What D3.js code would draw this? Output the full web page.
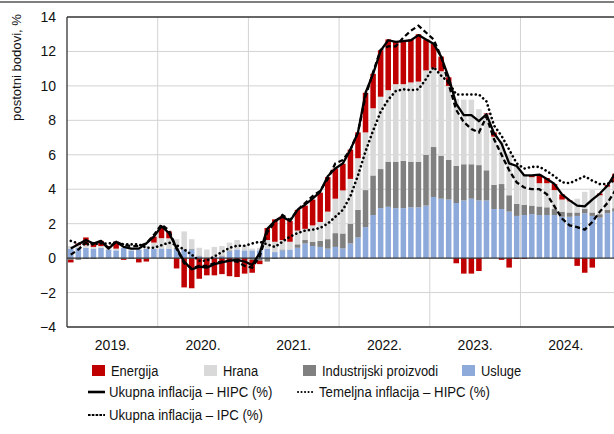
<!DOCTYPE html>
<html>
<head>
<meta charset="utf-8">
<script src="https://cdn.jsdelivr.net/npm/d3@7"></script>
<style>
body{margin:0;background:#fff;}
svg{font-family:"Liberation Sans",Arial,sans-serif;}
.grid line{stroke:#d3d3d3;stroke-width:1;}
.axis text{font-size:14px;fill:#111;}
.label{font-size:13.5px;fill:#111;}
.legend text{font-size:14.5px;fill:#111;}
</style>
</head>
<body>
<svg id="chart"></svg>
<script>
//categories and tick labels
var years = ["2019.","2020.","2021.","2022.","2023.","2024."]
var yTicks = [-4,-2,0,2,4,6,8,10,12,14]
var months = d3.timeMonths(new Date(2019,0,1),new Date(2025,1,1)) //jan 2019 - jan 2025

//contributions, postotni bodovi
var energija = [-0.15,0.1,0.45,0.25,0.3,0.1,0.4,-0.05,0.0,-0.2,-0.15,0.35,
    0.6,0.4,-0.6,-1.7,-1.75,-1.2,-1.0,-1.0,-0.93,-1.05,-1.1,-0.9,
    -0.75,-0.2,0.7,1.3,1.4,1.2,1.2,1.35,1.5,1.7,2.0,1.75,
    1.55,1.7,1.5,2.3,2.0,2.7,2.95,2.5,2.5,2.5,2.75,1.8,
    1.4,0.85,0.5,-0.3,-0.9,-0.9,-0.75,0.05,0.25,-0.1,-0.55,-0.05,
    -0.05,0.1,0.5,0.3,0.35,0.3,0.05,-0.45,-0.85,-0.55,0.1,0.1,
    0.5]
var hrana = [0.15,0.15,0.15,0.1,0.1,0.1,0.1,0.05,0.1,0.1,0.15,0.35,
    0.6,0.6,0.5,1.0,0.55,0.45,0.5,0.6,0.55,0.45,0.55,0.3,
    0.1,0.15,0.5,0.6,0.55,0.45,0.8,0.65,0.95,1.1,1.6,2.0,
    2.5,2.6,3.0,3.35,3.9,4.2,4.15,4.5,4.45,4.6,4.65,4.9,
    4.6,4.9,4.3,3.9,3.75,3.75,3.25,3.25,2.8,2.5,2.4,2.3,
    1.75,1.65,1.35,1.4,1.1,0.7,0.65,0.8,1.0,1.3,1.1,1.35,
    1.5]
var industrija = [-0.1,-0.1,-0.05,-0.05,0.0,0.0,0.0,-0.05,-0.05,-0.05,-0.05,0.0,
    0.0,0.0,0.05,0.05,0.05,0.05,0.0,0.0,0.05,0.05,0.0,0.0,
    -0.1,-0.15,-0.2,-0.05,0.05,0.0,0.2,0.2,0.25,0.35,0.55,0.8,
    0.87,1.15,1.6,2.15,2.3,2.27,2.62,2.7,2.75,2.65,2.65,2.95,
    2.9,2.5,2.3,2.15,2.1,2.0,2.05,1.75,1.4,1.45,0.95,0.7,
    0.6,0.5,0.5,0.45,0.35,0.3,0.25,0.2,0.25,0.2,0.2,0.2,
    0.2]
var usluge = [0.55,0.6,0.6,0.55,0.6,0.5,0.45,0.6,0.45,0.5,0.55,0.55,
    0.56,0.55,0.55,0.5,0.5,0.1,0.0,0.05,0.1,0.4,0.5,0.45,
    0.45,0.45,0.55,0.35,0.45,0.5,0.6,0.85,0.7,0.65,0.55,0.65,
    0.56,0.85,1.2,1.8,2.5,2.9,2.98,2.9,2.9,2.95,2.95,3.05,
    3.55,3.45,3.4,3.2,3.35,3.45,3.35,3.35,2.85,2.85,2.7,2.45,
    2.5,2.55,2.5,2.5,2.5,2.4,2.4,2.45,2.6,2.45,2.35,2.6,
    2.7]

//inflation lines, %
var hipc = [0.56,0.8,1.05,0.85,1.0,0.55,0.95,0.65,0.55,0.55,0.85,1.25,
    1.85,1.45,0.6,-0.2,-0.65,-0.5,-0.55,-0.35,-0.25,-0.15,-0.1,-0.2,
    -0.4,0.3,1.7,2.15,2.4,2.15,2.8,3.1,3.45,3.85,4.75,5.2,
    5.5,6.3,7.3,9.6,10.7,12.05,12.65,12.55,12.6,12.65,12.95,12.7,
    12.45,11.7,10.5,8.95,8.3,8.3,7.95,8.35,7.25,6.65,5.5,5.35,
    4.8,4.8,4.85,4.6,4.3,3.7,3.35,3.05,3.0,3.4,3.75,4.2,
    4.9]
var temeljna = [1.0,0.85,0.8,0.8,0.85,0.85,0.9,0.8,0.8,0.8,0.6,0.6,
    0.75,0.9,0.75,0.5,0.2,-0.15,-0.15,0.1,0.35,0.6,0.72,0.72,
    0.85,0.95,0.8,0.65,0.95,1.25,1.45,1.6,1.65,1.75,2.0,2.4,
    2.8,3.6,4.8,6.2,7.4,8.5,9.2,9.7,9.8,9.75,9.8,10.4,
    11.1,10.6,10.2,9.5,9.5,9.5,9.5,9.1,7.7,7.1,6.3,5.5,
    5.2,5.3,5.3,5.05,4.75,4.4,4.35,4.55,4.75,4.5,4.3,4.3,
    4.55]
var ipc = [0.2,0.5,0.9,0.85,0.95,0.6,0.95,0.75,0.7,0.7,0.85,1.35,
    1.95,1.6,0.55,-0.3,-0.6,-0.45,-0.45,-0.3,-0.2,-0.15,-0.2,-0.45,
    -0.55,0.1,1.5,2.1,2.5,2.2,2.8,3.2,3.6,3.9,4.6,5.5,
    5.7,6.3,7.3,9.4,10.8,12.1,12.3,12.3,12.8,13.2,13.5,13.1,
    12.7,11.7,10.1,8.6,7.9,7.5,7.3,8.2,6.9,6.0,5.1,4.4,
    4.1,4.0,4.0,3.7,3.0,2.3,1.9,1.8,1.65,2.1,2.7,3.2,
    3.9]

var keys = ["usluge","industrija","hrana","energija"]
var colorScale = d3.scaleOrdinal()
    .domain(["energija","hrana","industrija","usluge"])
    .range(["#c00000","#d9d9d9","#808080","#8eaadb"])

var makeTranslateString = function(x,y)
{
    return "translate("+x+","+y+")";
}

//bars
var drawBars = function(table,target,xScale,yScale)
{
    var stacked = d3.stack()
        .keys(keys)
        .offset(d3.stackOffsetDiverging)(table)

    target.selectAll("g")
        .data(stacked)
        .enter()
        .append("g")
        .attr("fill",function(s){return colorScale(s.key)})
        .selectAll("rect")
        .data(function(s){return s})
        .enter()
        .append("rect")
        .attr("x",function(d){return xScale(d.data.month)})
        .attr("y",function(d){return yScale(Math.max(d[0],d[1]))})
        .attr("width",xScale.bandwidth())
        .attr("height",function(d){return Math.abs(yScale(d[0])-yScale(d[1]))})
}

//lines
var drawLines = function(target,xScale,yScale)
{
    var line = d3.line()
        .x(function(d,i){return xScale(i)+xScale.bandwidth()/2})
        .y(function(d){return yScale(d)})

    target.append("path")
        .datum(temeljna)
        .attr("d",line)
        .attr("fill","none")
        .attr("stroke","#000")
        .attr("stroke-width",2.6)
        .attr("stroke-linecap","round")
        .attr("stroke-dasharray","0.1,4.3")
    target.append("path")
        .datum(ipc)
        .attr("d",line)
        .attr("fill","none")
        .attr("stroke","#000")
        .attr("stroke-width",2.3)
        .attr("stroke-dasharray","5,3")
    target.append("path")
        .datum(hipc)
        .attr("d",line)
        .attr("fill","none")
        .attr("stroke","#000")
        .attr("stroke-width",2.3)
        .attr("stroke-linejoin","round")
}

//grid + axes
var drawAxes = function(svg,graph,margins,xScale,xYear,yScale)
{
    var grid = svg.append("g").classed("grid",true)
    grid.selectAll(".h")
        .data(yTicks.filter(function(t){return t>-4 && t<14 && t!=0}))
        .enter()
        .append("line")
        .attr("x1",margins.left)
        .attr("x2",graph.right)
        .attr("y1",function(t){return yScale(t)})
        .attr("y2",function(t){return yScale(t)})
    grid.selectAll(".v")
        .data([12,24,36,48,60])
        .enter()
        .append("line")
        .attr("x1",function(m){return xYear(m)})
        .attr("x2",function(m){return xYear(m)})
        .attr("y1",yScale(14))
        .attr("y2",yScale(-4))

    var yAxis = d3.axisLeft(yScale)
        .tickValues(yTicks)
        .tickSize(0)
        .tickPadding(11)
        .tickFormat(function(t){return t<0 ? "\u2212"+Math.abs(t) : t})
    svg.append("g")
        .classed("axis",true)
        .attr("transform",makeTranslateString(margins.left,0))
        .call(yAxis)
        .call(function(g){g.select(".domain").remove()})
        .selectAll("text")
        .attr("font-family",null)
        .attr("font-size",null)

    svg.append("g")
        .classed("axis",true)
        .selectAll("text")
        .data(years)
        .enter()
        .append("text")
        .text(function(y){return y})
        .attr("text-anchor","middle")
        .attr("x",function(y,i){return xYear(i*12+6)})
        .attr("y",350)
}

var drawFrame = function(svg,graph,margins,yScale)
{
    var frame = svg.append("g")
        .attr("stroke","#333")
        .attr("stroke-width",1.3)
    frame.append("line")
        .attr("x1",margins.left).attr("x2",graph.right)
        .attr("y1",yScale(14)).attr("y2",yScale(14))
    frame.append("line")
        .attr("x1",margins.left).attr("x2",graph.right)
        .attr("y1",yScale(-4)).attr("y2",yScale(-4))
    frame.append("line")
        .attr("x1",margins.left).attr("x2",margins.left)
        .attr("y1",yScale(14)).attr("y2",yScale(-4))
    //zero line
    svg.append("line")
        .attr("x1",margins.left).attr("x2",graph.right)
        .attr("y1",yScale(0)).attr("y2",yScale(0))
        .attr("stroke","#333")
        .attr("stroke-width",1.2)
    //top rule of the page
    svg.append("line")
        .attr("x1",0).attr("x2",614)
        .attr("y1",2).attr("y2",2)
        .attr("stroke","#555")
        .attr("stroke-width",1.5)
}

var drawLabels = function(svg)
{
    svg.append("text")
        .text("postotni bodovi, %")
        .classed("label",true)
        .attr("text-anchor","end")
        .attr("transform","translate(21,14) rotate(270) scale(0.97,1)")
}

//Legend setup
var drawLegend = function(svg)
{
    var boxes = [
        {key:"energija",name:"Energija",x:92},
        {key:"hrana",name:"Hrana",x:204},
        {key:"industrija",name:"Industrijski proizvodi",x:303},
        {key:"usluge",name:"Usluge",x:462}
    ]
    var lines = [
        {name:"Ukupna inflacija \u2013 HIPC (%)",x:88,y:392,dash:null,w:2.6,cap:"butt"},
        {name:"Temeljna inflacija \u2013 HIPC (%)",x:298,y:392,dash:"0.1,3.4",w:2,cap:"round"},
        {name:"Ukupna inflacija \u2013 IPC (%)",x:88,y:415,dash:"2.6,1.2",w:2,cap:"butt"}
    ]
    var legend = svg.append("g").classed("legend",true)

    var entries = legend.selectAll(".box")
        .data(boxes)
        .enter()
        .append("g")
        .attr("transform",function(b){return makeTranslateString(b.x,365)})
    entries.append("rect")
        .attr("width",13)
        .attr("height",11)
        .attr("fill",function(b){return colorScale(b.key)})
    entries.append("text")
        .text(function(b){return b.name})
        .attr("transform","translate(19,10.5) scale(0.89,1)")

    var lineEntries = legend.selectAll(".ln")
        .data(lines)
        .enter()
        .append("g")
        .attr("transform",function(l){return makeTranslateString(l.x,l.y)})
    lineEntries.append("line")
        .attr("x1",0).attr("x2",17)
        .attr("stroke","#000")
        .attr("stroke-width",function(l){return l.w})
        .attr("stroke-linecap",function(l){return l.cap})
        .attr("stroke-dasharray",function(l){return l.dash})
    lineEntries.append("text")
        .text(function(l){return l.name})
        .attr("transform","translate(21,5.3) scale(0.91,1)")
}

var initGraph = function()
{
    var screen = {width:614,height:434}
    var margins = {left:67,top:17,bottom:107}
    var step = 7.558
    var graph = {
        right:67+months.length*step,
        height:screen.height-margins.top-margins.bottom
    }

    var svg = d3.select("#chart")
        .attr("width",screen.width)
        .attr("height",screen.height)

    var table = months.map(function(m,i){
        return {month:i,energija:energija[i],hrana:hrana[i],
                industrija:industrija[i],usluge:usluge[i]}
    })

    var xScale = d3.scaleBand()
        .domain(d3.range(months.length))
        .range([margins.left,graph.right])
        .paddingInner(0.27)
        .paddingOuter(0.135)
    var xYear = d3.scaleLinear()
        .domain([0,months.length])
        .range([margins.left,graph.right])
    var yScale = d3.scaleLinear()
        .domain([-4,14])
        .range([margins.top+graph.height,margins.top])

    drawAxes(svg,graph,margins,xScale,xYear,yScale)
    drawBars(table,svg.append("g"),xScale,yScale)
    drawFrame(svg,graph,margins,yScale)
    drawLines(svg.append("g"),xScale,yScale)
    drawLabels(svg)
    drawLegend(svg)
}

initGraph()
</script>
</body>
</html>
